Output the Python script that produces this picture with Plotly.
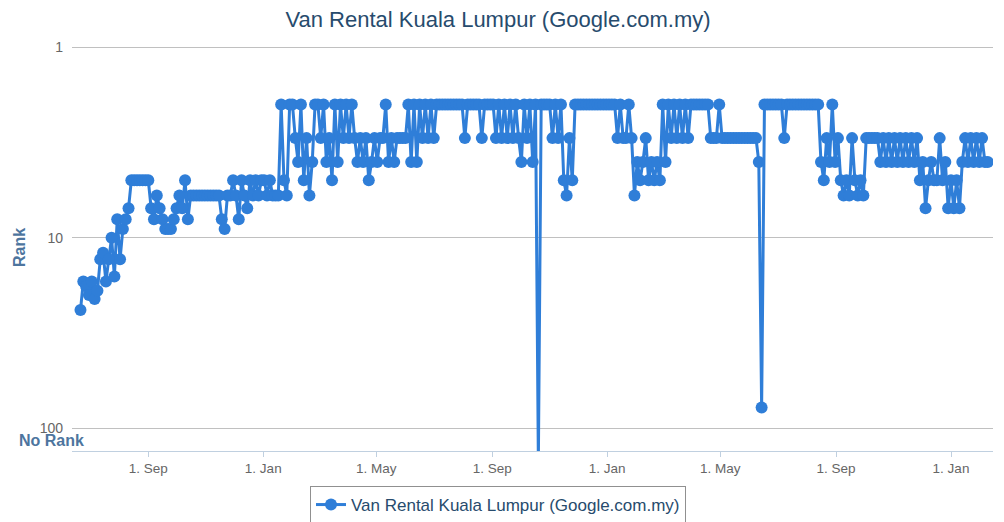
import math
import plotly.graph_objects as go

TITLE = "Van Rental Kuala Lumpur (Google.com.my)"
SERIES_NAME = "Van Rental Kuala Lumpur (Google.com.my)"
NO_RANK = 150  # sentinel value plotted below the last gridline ("No Rank")

# sampled observation dates (every third day)
dates = [
    "2012-06-21", "2012-06-24", "2012-06-27", "2012-06-30",
    "2012-07-03", "2012-07-06", "2012-07-09", "2012-07-12", "2012-07-15", "2012-07-18", "2012-07-21", "2012-07-24", "2012-07-27", "2012-07-30",
    "2012-08-02", "2012-08-05", "2012-08-08", "2012-08-11", "2012-08-14", "2012-08-17", "2012-08-20", "2012-08-23", "2012-08-26", "2012-08-29",
    "2012-09-01", "2012-09-04", "2012-09-07", "2012-09-10", "2012-09-13", "2012-09-16", "2012-09-19", "2012-09-22", "2012-09-25", "2012-09-28",
    "2012-10-01", "2012-10-04", "2012-10-07", "2012-10-10", "2012-10-13", "2012-10-16", "2012-10-19", "2012-10-22", "2012-10-25", "2012-10-28", "2012-10-31",
    "2012-11-03", "2012-11-06", "2012-11-09", "2012-11-12", "2012-11-15", "2012-11-18", "2012-11-21", "2012-11-24", "2012-11-27", "2012-11-30",
    "2012-12-03", "2012-12-06", "2012-12-09", "2012-12-12", "2012-12-15", "2012-12-18", "2012-12-21", "2012-12-24", "2012-12-27", "2012-12-30",
    "2013-01-02", "2013-01-05", "2013-01-08", "2013-01-11", "2013-01-14", "2013-01-17", "2013-01-20", "2013-01-23", "2013-01-26", "2013-01-29",
    "2013-02-01", "2013-02-04", "2013-02-07", "2013-02-10", "2013-02-13", "2013-02-16", "2013-02-19", "2013-02-22", "2013-02-25", "2013-02-28",
    "2013-03-03", "2013-03-06", "2013-03-09", "2013-03-12", "2013-03-15", "2013-03-18", "2013-03-21", "2013-03-24", "2013-03-27", "2013-03-30",
    "2013-04-02", "2013-04-05", "2013-04-08", "2013-04-11", "2013-04-14", "2013-04-17", "2013-04-20", "2013-04-23", "2013-04-26", "2013-04-29",
    "2013-05-02", "2013-05-05", "2013-05-08", "2013-05-11", "2013-05-14", "2013-05-17", "2013-05-20", "2013-05-23", "2013-05-26", "2013-05-29",
    "2013-06-01", "2013-06-04", "2013-06-07", "2013-06-10", "2013-06-13", "2013-06-16", "2013-06-19", "2013-06-22", "2013-06-25", "2013-06-28",
    "2013-07-01", "2013-07-04", "2013-07-07", "2013-07-10", "2013-07-13", "2013-07-16", "2013-07-19", "2013-07-22", "2013-07-25", "2013-07-28", "2013-07-31",
    "2013-08-03", "2013-08-06", "2013-08-09", "2013-08-12", "2013-08-15", "2013-08-18", "2013-08-21", "2013-08-24", "2013-08-27", "2013-08-30",
    "2013-09-02", "2013-09-05", "2013-09-08", "2013-09-11", "2013-09-14", "2013-09-17", "2013-09-20", "2013-09-23", "2013-09-26", "2013-09-29",
    "2013-10-02", "2013-10-05", "2013-10-08", "2013-10-11", "2013-10-14", "2013-10-17", "2013-10-20", "2013-10-23", "2013-10-26", "2013-10-29",
    "2013-11-01", "2013-11-04", "2013-11-07", "2013-11-10", "2013-11-13", "2013-11-16", "2013-11-19", "2013-11-22", "2013-11-25", "2013-11-28",
    "2013-12-01", "2013-12-04", "2013-12-07", "2013-12-10", "2013-12-13", "2013-12-16", "2013-12-19", "2013-12-22", "2013-12-25", "2013-12-28", "2013-12-31",
    "2014-01-03", "2014-01-06", "2014-01-09", "2014-01-12", "2014-01-15", "2014-01-18", "2014-01-21", "2014-01-24", "2014-01-27", "2014-01-30",
    "2014-02-02", "2014-02-05", "2014-02-08", "2014-02-11", "2014-02-14", "2014-02-17", "2014-02-20", "2014-02-23", "2014-02-26",
    "2014-03-01", "2014-03-04", "2014-03-07", "2014-03-10", "2014-03-13", "2014-03-16", "2014-03-19", "2014-03-22", "2014-03-25", "2014-03-28", "2014-03-31",
    "2014-04-03", "2014-04-06", "2014-04-09", "2014-04-12", "2014-04-15", "2014-04-18", "2014-04-21", "2014-04-24", "2014-04-27", "2014-04-30",
    "2014-05-03", "2014-05-06", "2014-05-09", "2014-05-12", "2014-05-15", "2014-05-18", "2014-05-21", "2014-05-24", "2014-05-27", "2014-05-30",
    "2014-06-02", "2014-06-05", "2014-06-08", "2014-06-11", "2014-06-14", "2014-06-17", "2014-06-20", "2014-06-23", "2014-06-26", "2014-06-29",
    "2014-07-02", "2014-07-05", "2014-07-08", "2014-07-11", "2014-07-14", "2014-07-17", "2014-07-20", "2014-07-23", "2014-07-26", "2014-07-29",
    "2014-08-01", "2014-08-04", "2014-08-07", "2014-08-10", "2014-08-13", "2014-08-16", "2014-08-19", "2014-08-22", "2014-08-25", "2014-08-28", "2014-08-31",
    "2014-09-03", "2014-09-06", "2014-09-09", "2014-09-12", "2014-09-15", "2014-09-18", "2014-09-21", "2014-09-24", "2014-09-27", "2014-09-30",
    "2014-10-03", "2014-10-06", "2014-10-09", "2014-10-12", "2014-10-15", "2014-10-18", "2014-10-21", "2014-10-24", "2014-10-27", "2014-10-30",
    "2014-11-02", "2014-11-05", "2014-11-08", "2014-11-11", "2014-11-14", "2014-11-17", "2014-11-20", "2014-11-23", "2014-11-26", "2014-11-29",
    "2014-12-02", "2014-12-05", "2014-12-08", "2014-12-11", "2014-12-14", "2014-12-17", "2014-12-20", "2014-12-23", "2014-12-26", "2014-12-29",
    "2015-01-01", "2015-01-04", "2015-01-07", "2015-01-10", "2015-01-13", "2015-01-16", "2015-01-19", "2015-01-22", "2015-01-25", "2015-01-28", "2015-01-31",
    "2015-02-03", "2015-02-06", "2015-02-09",
]

# Google rank on each date (NO_RANK = not ranked)
ranks = [
    24, 17, 18, 20,
    17, 21, 19, 13, 12, 17, 13, 10, 16, 8,
    13, 9, 8, 7, 5, 5, 5, 5, 5, 5,
    5, 7, 8, 6, 7, 8, 9, 9, 9, 8,
    7, 6, 7, 5, 8, 6, 6, 6, 6, 6, 6,
    6, 6, 6, 6, 6, 8, 9, 6, 6, 5,
    6, 8, 5, 6, 7, 5, 6, 5, 6, 5,
    5, 6, 5, 6, 6, 6, 2, 5, 6, 2,
    2, 3, 4, 2, 5, 3, 6, 4, 2, 2,
    3, 2, 4, 3, 5, 2, 4, 2, 3, 2,
    3, 2, 3, 4, 3, 4, 3, 5, 4, 3,
    4, 3, 3, 2, 4, 3, 4, 3, 3, 3,
    3, 2, 4, 2, 4, 2, 3, 2, 3, 2,
    3, 2, 2, 2, 2, 2, 2, 2, 2, 2, 2,
    3, 2, 2, 2, 2, 2, 3, 2, 2, 2,
    2, 3, 2, 3, 2, 3, 2, 3, 2, 3,
    4, 2, 3, 2, 4, 2, NO_RANK, 2, 2, 2,
    2, 3, 2, 3, 2, 5, 6, 3, 5, 2,
    2, 2, 2, 2, 2, 2, 2, 2, 2, 2, 2,
    2, 2, 2, 3, 2, 3, 3, 2, 3, 6,
    4, 5, 4, 3, 5, 4, 5, 4, 5,
    2, 4, 2, 3, 2, 3, 2, 3, 2, 3, 2,
    2, 2, 2, 2, 2, 2, 3, 3, 3, 2,
    3, 3, 3, 3, 3, 3, 3, 3, 3, 3,
    3, 3, 3, 4, 78, 2, 2, 2, 2, 2,
    2, 2, 3, 2, 2, 2, 2, 2, 2, 2,
    2, 2, 2, 2, 2, 4, 5, 3, 4, 2, 4,
    3, 5, 6, 5, 6, 3, 5, 6, 5, 6,
    3, 3, 3, 3, 3, 4, 3, 4, 3, 4,
    3, 4, 3, 4, 3, 4, 3, 4, 3, 5,
    4, 7, 5, 4, 5, 5, 3, 5, 4, 7,
    5, 7, 5, 7, 4, 3, 4, 3, 4, 3, 4,
    3, 4, 4,
]

y_tick_values = [1, 10, 100]
y_tick_labels = ["1", "10", "100"]
x_range = ["2012-06-12", "2015-02-14 14:00"]
y_bottom = 132  # lowest value shown at the bottom edge of the plot

BLUE = "#2f7ed8"
FONT = "Liberation Sans, Arial, Helvetica, sans-serif"

# the page body adds an 8 px margin around the figure
W, H = 996, 514

fig = go.Figure()
fig.add_trace(go.Scatter(
    x=dates, y=ranks, mode="lines+markers", name=SERIES_NAME,
    line=dict(color=BLUE, width=3),
    marker=dict(size=12, color=BLUE),
    showlegend=True,
))

fig.update_layout(
    width=W, height=H,
    margin=dict(l=64, r=11, t=37, b=71, autoexpand=False),
    paper_bgcolor="white", plot_bgcolor="white",
    font=dict(family=FONT, color="#666666", size=14),
    title=dict(text=TITLE, x=490 / W, xanchor="center", y=1 - 11 / H, yanchor="middle",
               font=dict(size=22, color="#274b6d", family=FONT)),
    xaxis=dict(
        type="date", range=x_range, automargin=False,
        tickformat="%-d. %b", dtick="M4", tick0="2012-09-01",
        showgrid=False, zeroline=False,
        showline=True, linecolor="#C0D0E0", linewidth=1,
        ticks="outside", ticklen=5, tickcolor="#C0D0E0",
        tickfont=dict(size=13.5, color="#666666"),
    ),
    yaxis=dict(
        type="log", range=[math.log10(y_bottom), -0.012], automargin=False,
        tickmode="array", tickvals=y_tick_values, ticktext=y_tick_labels,
        showgrid=True, gridcolor="#C0C0C0", gridwidth=1,
        zeroline=False, showline=False, ticks="",
        ticklabelstandoff=8,
        tickfont=dict(size=14, color="#666666"),
    ),
    legend=dict(
        orientation="h", xref="container", yref="container",
        x=490 / W, xanchor="center", y=1 - 478 / H, yanchor="top",
        bordercolor="#909090", borderwidth=1, bgcolor="white",
        font=dict(size=17, color="#274b6d", family=FONT),
    ),
    annotations=[
        dict(text="<b>Rank</b>", xref="paper", yref="paper", x=0, y=0.5,
             xshift=-53, xanchor="center", yanchor="middle", textangle=-90, showarrow=False,
             font=dict(size=16, color="#4d759e", family=FONT)),
        dict(text="<b>No Rank</b>", xref="paper", yref="paper", x=0, y=0.027,
             xshift=-21, xanchor="center", yanchor="middle", showarrow=False,
             font=dict(size=16, color="#4d759e", family=FONT)),
    ],
)

fig.write_html("out.html")
